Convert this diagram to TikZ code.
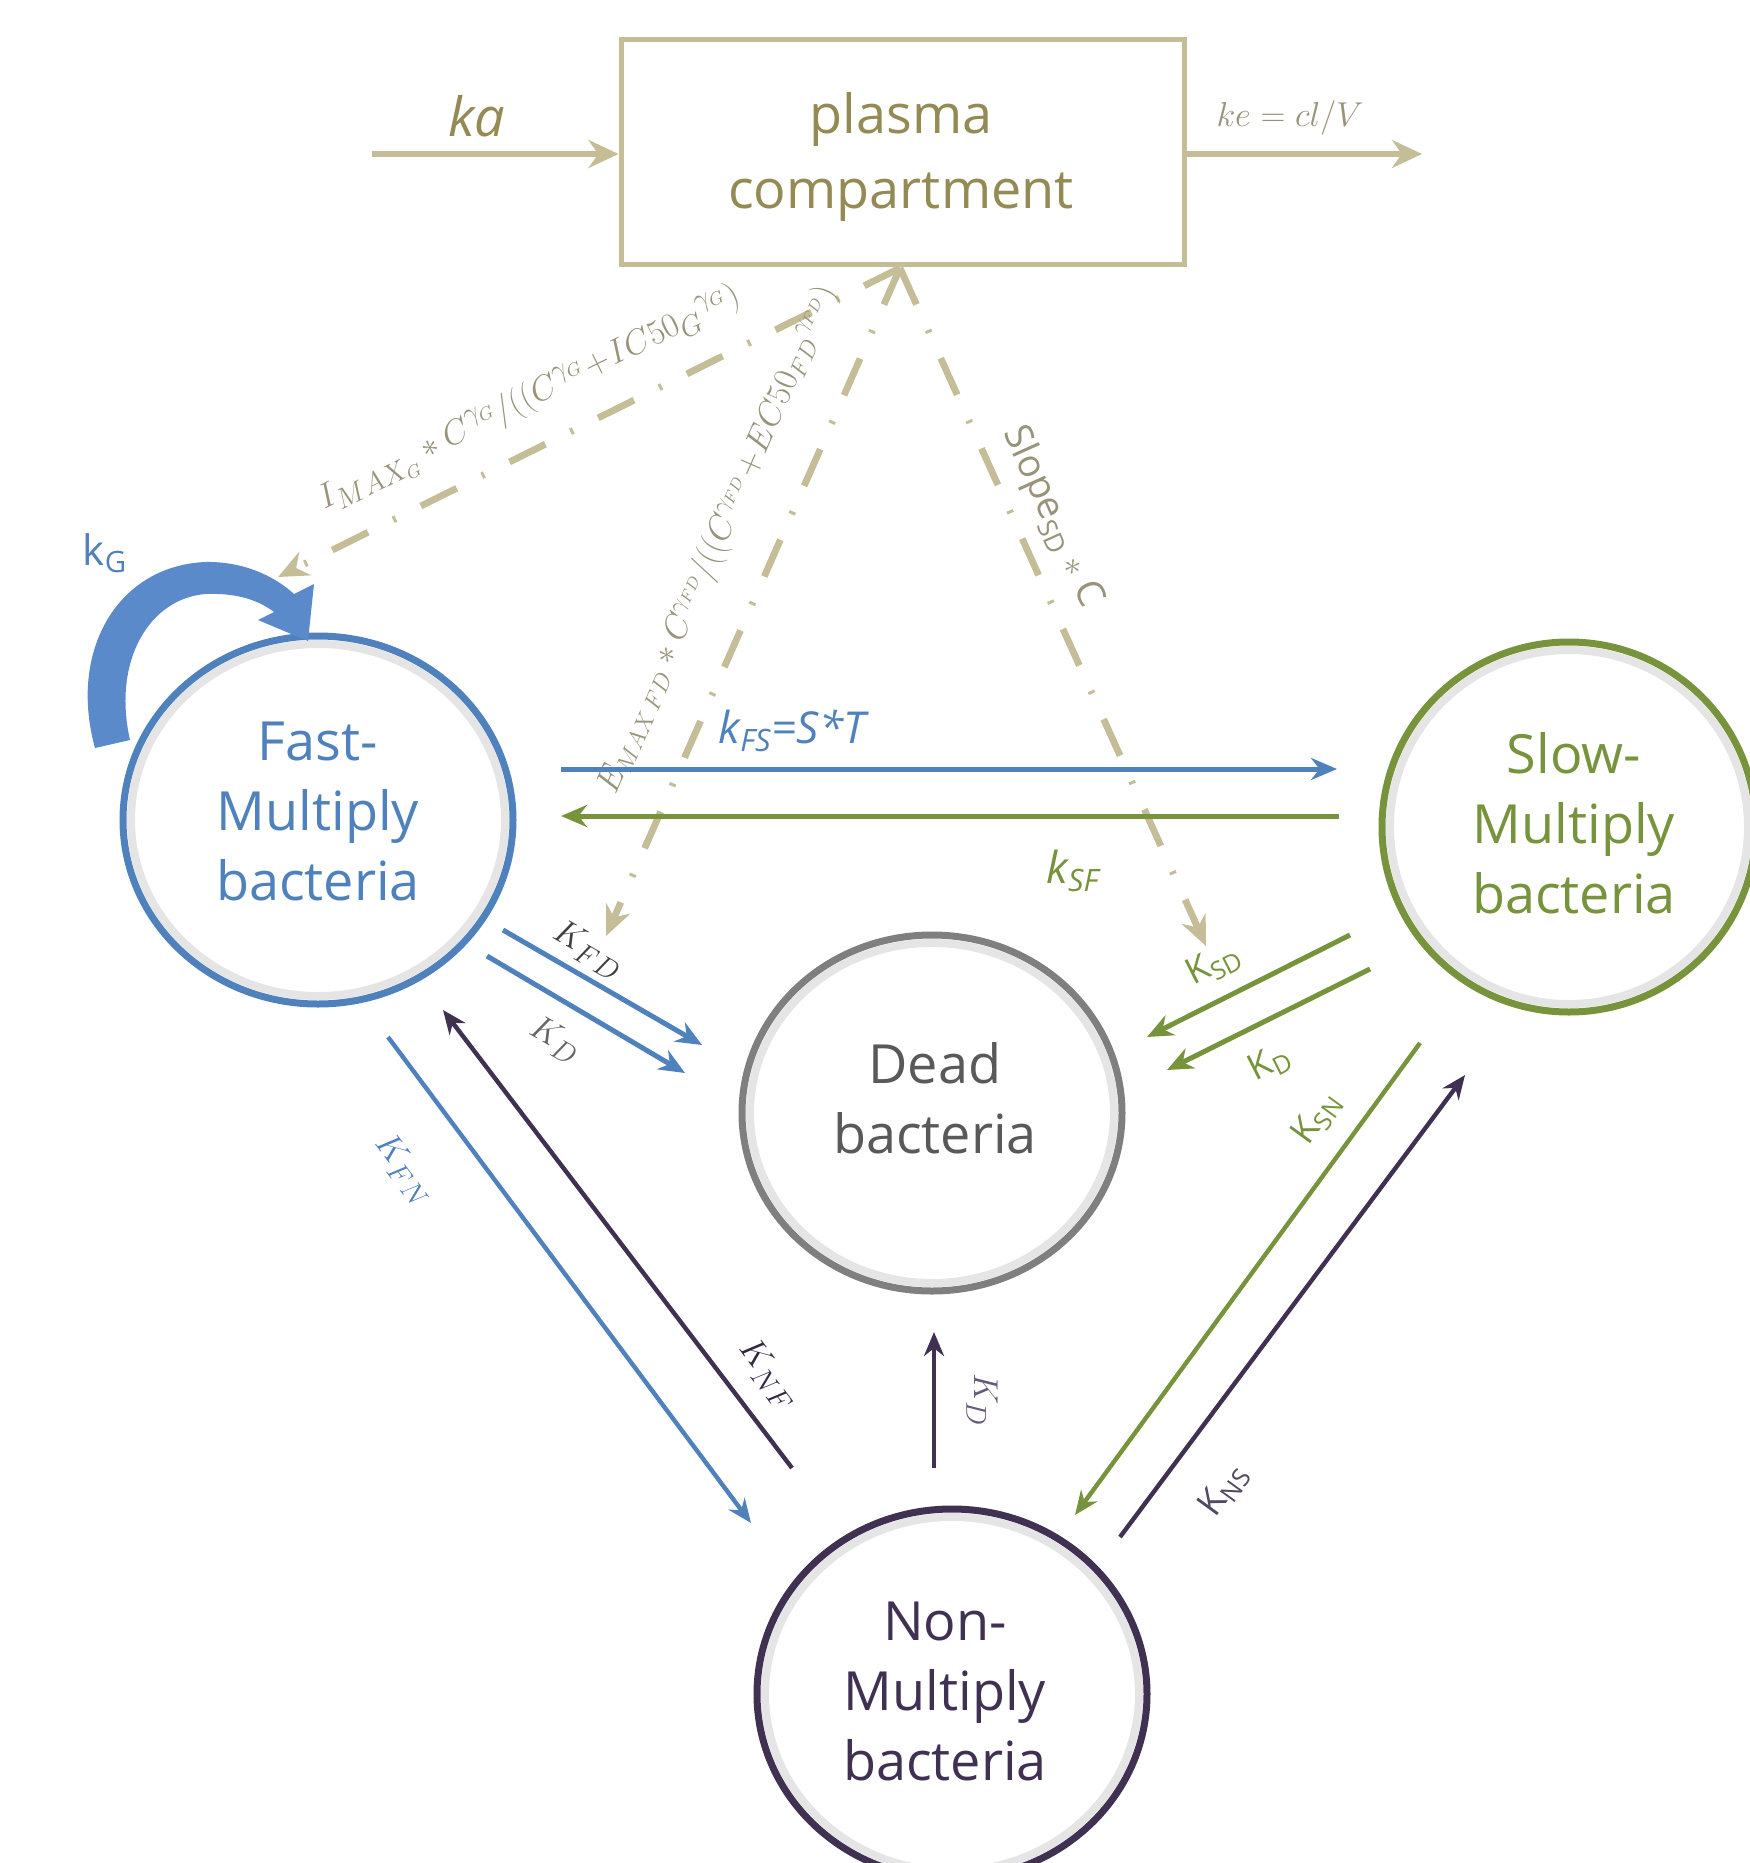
\documentclass[tikz,border=0pt]{standalone}
\usepackage{fontspec}
\setmainfont{Open Sans}
\usetikzlibrary{arrows.meta,shapes.geometric}
\definecolor{tanline}{HTML}{C4BD97}
\definecolor{tantext}{HTML}{948A54}
\definecolor{tanlab}{HTML}{98937A}
\definecolor{myblue}{HTML}{4F81BD}
\definecolor{kgblue}{HTML}{5A8ACA}
\definecolor{mygreen}{HTML}{77933C}
\definecolor{mypurple}{HTML}{403152}
\definecolor{mygray}{HTML}{7F7F7F}
\definecolor{deadtext}{HTML}{595959}
\definecolor{labgray}{HTML}{404040}
\begin{document}
\begin{tikzpicture}[x=0.5pt,y=-0.5pt,
  cell/.style={ellipse, draw, line width=3.5pt, inner sep=0pt},
  glow/.style={black!10, line width=4pt},
  celltext/.style={align=center, font=\fontsize{27}{35}\selectfont},
  flow/.style={line width=2.5pt, -{Stealth[length=13pt,width=11pt]}},
  thinflow/.style={line width=2.2pt, -{Stealth[length=12pt,width=10pt]}},
  drug/.style={tanline, line width=3.4pt, dash pattern=on 20pt off 14pt on 1.5pt off 14pt, -{Stealth[length=15pt,width=13pt]}},
  feed/.style={tanline, line width=2.8pt, -{Stealth[length=15pt,width=14pt]}},
  mathlab/.style={font=\fontsize{19}{21}\selectfont},
  sanslab/.style={font=\fontsize{18}{20}\selectfont},
  druglab/.style={tanlab, font=\fontsize{19}{21}\selectfont}]
\useasboundingbox (0,0) rectangle (1750,1863);

% compartments
\node[draw=tanline, line width=2.5pt, minimum width=281.5pt, minimum height=112.5pt] (plasma) at (902.5,151.5) {};
\node[align=center, font=\fontsize{27}{37.5}\selectfont, text=tantext] (plasmatxt) at (901,157) {plasma\\compartment};

\draw[glow] (318,820) ellipse [x radius=187, y radius=176];
\draw[glow] (1569,827) ellipse [x radius=179, y radius=177];
\draw[glow] (932,1113) ellipse [x radius=182, y radius=170];
\draw[glow] (952,1694) ellipse [x radius=187, y radius=177];

\node[cell, draw=myblue, minimum width=195pt, minimum height=184pt] (fast) at (318,820) {};
\node[cell, draw=mygreen, minimum width=187pt, minimum height=185pt] (slow) at (1569,827) {};
\node[cell, draw=mygray, minimum width=190pt, minimum height=178pt] (dead) at (932,1113) {};
\node[cell, draw=mypurple, minimum width=195pt, minimum height=185pt] (non) at (952,1694) {};

\node[celltext, text=myblue] (fasttxt) at (318,811) {Fast-\\Multiply\\bacteria};
\node[celltext, text=mygreen] (slowtxt) at (1574,823) {Slow-\\Multiply\\bacteria};
\node[celltext, text=deadtext] (deadtxt) at (935,1098) {Dead\\bacteria};
\node[celltext, text=mypurple] (nontxt) at (945,1691) {Non-\\Multiply\\bacteria};

% input / elimination
\coordinate (kain) at (372,154);
\coordinate (keout) at (1422,154);
\draw[feed] (kain) -- (plasma.west |- kain);
\draw[feed] (plasma.east |- keout) -- (keout);
\node[tantext, font=\fontsize{27}{30}\selectfont\itshape] (ka) at (477,116) {ka};
\node[tanlab, font=\fontsize{19}{21}\selectfont] (ke) at (1290,118) {$ke = cl/V$};

% growth loop (tapered block arrow)
\fill[kgblue] (95,748) .. controls (68,650) and (118,566) .. (205,562)
  .. controls (245,561) and (277,578) .. (294,594)
  -- (314,584) -- (308,641) -- (258,620) -- (274,612)
  .. controls (256,598) and (232,593) .. (206,594)
  .. controls (150,598) and (112,660) .. (130,740) -- cycle;
\node[myblue, font=\fontsize{21}{23}\selectfont] (kG) at (105,553) {k\textsubscript{G}};

% drug effects
\coordinate (pc) at (900,268);
\coordinate (d1) at (278,577);
\coordinate (d2) at (606,936);
\coordinate (d3) at (1206,946);
\draw[drug] (pc) -- (d1);
\draw[drug] (pc) -- (d2);
\draw[drug] (pc) -- (d3);
\node[druglab, rotate=26.4] (imax) at (530,400)
  {$I_{MAX_G} * C^{\gamma_G} / ((C^{\gamma_G}\!+\!IC50_G{}^{\gamma_G})$};
\node[druglab, rotate=66.3, font=\fontsize{16.5}{18}\selectfont] (emax) at (718,540)
  {$E_{MAX\,FD} * C^{\gamma_{FD}} / ((C^{\gamma_{FD}}\!+\!EC50_{FD}{}^{\gamma_{FD}})$};
\node[druglab, rotate=-65.7, font=\fontsize{19}{21}\selectfont] (slope) at (1052,517)
  {Slope\textsubscript{SD} $*$ C};

% fast <-> slow
\coordinate (fs1) at (561,769);
\coordinate (fs2) at (1337,769);
\coordinate (sf1) at (1339,816);
\coordinate (sf2) at (561,816);
\draw[flow, myblue] (fs1) -- (fs2);
\draw[flow, mygreen] (sf1) -- (sf2);
\node[myblue, font=\fontsize{22}{24}\selectfont\itshape] (kfs) at (792,731) {k\textsubscript{FS}=S*T};
\node[mygreen, font=\fontsize{22}{24}\selectfont\itshape] (ksf) at (1073,871) {k\textsubscript{SF}};

% fast -> dead
\coordinate (fd1) at (503,930);
\coordinate (fd2) at (702,1045);
\coordinate (fdd1) at (487,956);
\coordinate (fdd2) at (685,1073);
\draw[flow, myblue] (fd1) -- (fd2);
\draw[flow, myblue] (fdd1) -- (fdd2);
\node[mathlab, labgray, rotate=-30] (kfd) at (588,950) {$K_{FD}$};
\node[mathlab, black!60, rotate=-30] (kd1) at (555,1040) {$K_{D}$};

% slow -> dead
\coordinate (sd1) at (1350,935);
\coordinate (sd2) at (1147,1037);
\coordinate (sdd1) at (1370,969);
\coordinate (sdd2) at (1167,1070);
\draw[flow, mygreen] (sd1) -- (sd2);
\draw[flow, mygreen] (sdd1) -- (sdd2);
\node[sanslab, mygreen, rotate=26.7] (ksd) at (1214,965) {K\textsubscript{SD}};
\node[sanslab, mygreen, rotate=26.7] (kd2) at (1270,1063) {K\textsubscript{D}};

% fast <-> non
\coordinate (fn1) at (388,1037);
\coordinate (fn2) at (751,1523);
\coordinate (nf1) at (792,1468);
\coordinate (nf2) at (443,1010);
\draw[thinflow, myblue] (fn1) -- (fn2);
\draw[thinflow, mypurple] (nf1) -- (nf2);
\node[mathlab, myblue, rotate=-53] (kfn) at (404,1170) {$K_{FN}$};
\node[mathlab, mypurple!80!black, rotate=-53] (knf) at (768,1375) {$K_{NF}$};

% non -> dead
\coordinate (nd1) at (934,1468);
\coordinate (nd2) at (934,1332);
\draw[thinflow, mypurple] (nd1) -- (nd2);
\node[mathlab, mypurple!80, rotate=-90] (kd3) at (982,1400) {$K_{D}$};

% slow <-> non
\coordinate (sn1) at (1420,1043);
\coordinate (sn2) at (1075,1515);
\coordinate (ns1) at (1120,1537);
\coordinate (ns2) at (1465,1075);
\draw[thinflow, mygreen] (sn1) -- (sn2);
\draw[thinflow, mypurple] (ns1) -- (ns2);
\node[sanslab, mygreen, rotate=54] (ksn) at (1317,1118) {K\textsubscript{SN}};
\node[sanslab, mypurple!70!gray, rotate=54] (kns) at (1224,1490) {K\textsubscript{NS}};
\end{tikzpicture}
\end{document}
